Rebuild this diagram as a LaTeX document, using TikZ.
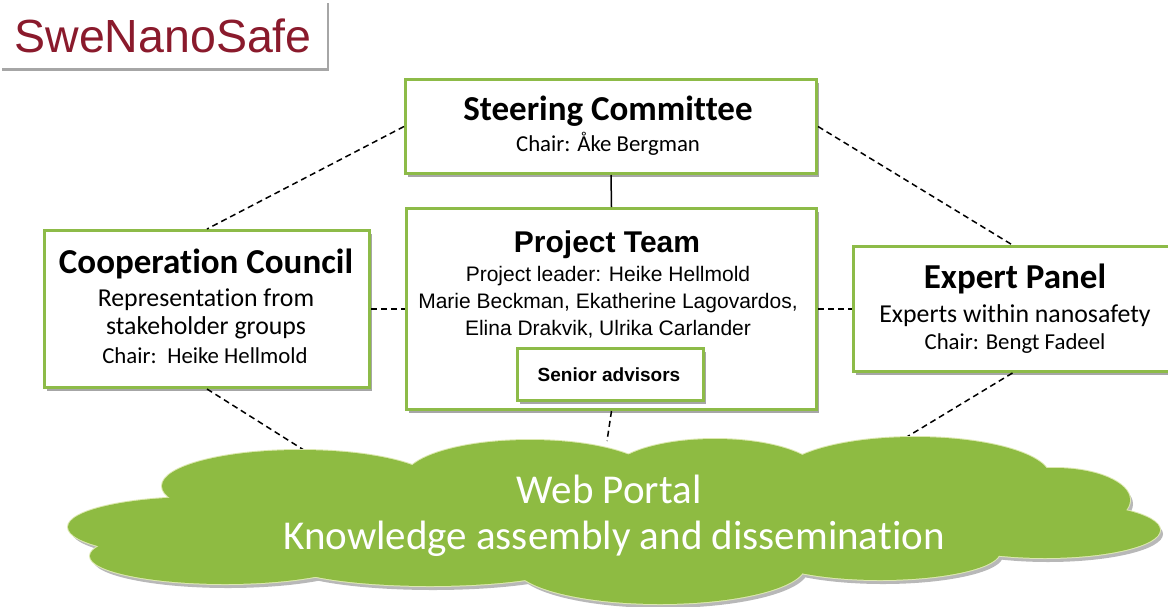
\documentclass[tikz,border=0pt]{standalone}
\usepackage{fontspec}
\setmainfont[Ligatures={NoCommon,NoContextual},Contextuals=NoAlternate]{Carlito}
\newfontfamily\arialf{Liberation Sans}
\usetikzlibrary{shadows}
\definecolor{boxgreen}{HTML}{8DBB48}
\definecolor{cloudgreen}{HTML}{8EBB42}
\definecolor{cloudedge}{HTML}{DCE8B0}
\definecolor{swered}{HTML}{8A1A2C}
\begin{document}
\begin{tikzpicture}[x=1pt,y=-1pt,
  orgbox/.style={draw=boxgreen, line width=3pt, fill=white, inner sep=0pt, anchor=north west,
    drop shadow={shadow xshift=2pt, shadow yshift=-3pt, opacity=0.35, fill=black}},
  logobox/.style={fill=white, inner sep=0pt, anchor=north west,
    drop shadow={shadow xshift=2pt, shadow yshift=-3pt, opacity=0.35, fill=black}},
  ttl/.style={anchor=base, font=\fontsize{35}{40}\selectfont\bfseries},
  sub/.style={anchor=base, font=\fontsize{25.8}{30}\selectfont},
  chair/.style={anchor=base, font=\fontsize{22.8}{26}\selectfont},
  ptline/.style={anchor=base, font=\arialf\fontsize{21}{24}\selectfont},
  dashline/.style={line width=1.5pt, dash pattern=on 6pt off 4pt},
  solidline/.style={line width=1.5pt},
  cloudtext/.style={anchor=base, text=white, font=\fontsize{41}{48}\selectfont}
]
\useasboundingbox (0,0) rectangle (1168,606);

% logo
\node[logobox, minimum width=327pt, minimum height=68pt] (logo) at (0,0) {};
\node[anchor=base west, text=swered, font=\arialf\fontsize{46.5}{54}\selectfont] (logotext) at (11,52) {SweNanoSafe};

% boxes
\node[orgbox, minimum width=411pt, minimum height=94pt] (steer) at (404,78) {};
\node[orgbox, minimum width=410pt, minimum height=201pt] (proj) at (405,207) {};
\node[orgbox, minimum width=325pt, minimum height=157pt] (coop) at (43,229) {};
\node[orgbox, minimum width=318pt, minimum height=125pt] (expert) at (852,245) {};
\node[orgbox, minimum width=186pt, minimum height=52pt] (senior) at (516,347) {};

% texts
\node[ttl] (steerT) at (608,120) {Steering Committee};
\node[chair] (steerC) at (608,151) {Chair: Åke Bergman};

\node[anchor=base, font=\arialf\fontsize{30}{34}\selectfont\bfseries] (projT) at (607,252) {Project Team};
\node[ptline] (projL1) at (608,281) {Project leader: Heike Hellmold};
\node[ptline] (projL2) at (608,308) {Marie Beckman, Ekatherine Lagovardos,};
\node[ptline] (projL3) at (608,335) {Elina Drakvik, Ulrika Carlander};
\node[anchor=base, font=\arialf\fontsize{19}{22}\selectfont\bfseries] (seniorT) at (609,381) {Senior advisors};

\node[ttl] (coopT) at (206,273) {Cooperation Council};
\node[sub] (coopS1) at (206,306) {Representation from};
\node[sub] (coopS2) at (206,334) {stakeholder groups};
\node[chair] (coopC) at (205,363) {Chair:\, Heike Hellmold};

\node[ttl] (expT) at (1015,288) {Expert Panel};
\node[sub] (expS) at (1015,322) {Experts within nanosafety};
\node[chair] (expC) at (1015,349) {Chair: Bengt Fadeel};

% cloud anchor coordinates
\coordinate (cl) at (307,452);
\coordinate (cm) at (607,441);
\coordinate (cr) at (905,438);

% connectors
\draw[solidline] (steer.south) -- (proj.north);
\draw[dashline] (steer.west) -- (coop.north);
\draw[dashline] (steer.east) -- (expert.north);
\draw[dashline] (coop.east) -- (proj.west);
\draw[dashline] (proj.east) -- (expert.west);
\draw[dashline] (coop.south) -- (cl);
\draw[dashline] (proj.south) -- (cm);
\draw[dashline] (expert.south) -- (cr);

% cloud
\def\cloudlist{200/527/132/30, 300/486/138/36, 530/478/125/38, 715/475/105/36, 915/477/135/40, 1055/500/75/32, 1045/530/115/28, 880/552/120/28, 660/566/145/38, 430/560/150/26, 225/556/135/28, 610/520/420/55}
\foreach \cx/\cy/\rx/\ry in \cloudlist {
  \fill[black!28] (\cx+3,\cy+4) ellipse [x radius=\rx pt, y radius=\ry pt];
}
\foreach \cx/\cy/\rx/\ry in \cloudlist {
  \draw[cloudedge, line width=2pt] (\cx,\cy) ellipse [x radius=\rx pt, y radius=\ry pt];
}
\foreach \cx/\cy/\rx/\ry in \cloudlist {
  \fill[cloudgreen] (\cx,\cy) ellipse [x radius=\rx pt, y radius=\ry pt];
}
\node[cloudtext] (webT) at (609,503) {Web Portal};
\node[cloudtext] (webS) at (614,549) {Knowledge assembly and dissemination};
\end{tikzpicture}
\end{document}
